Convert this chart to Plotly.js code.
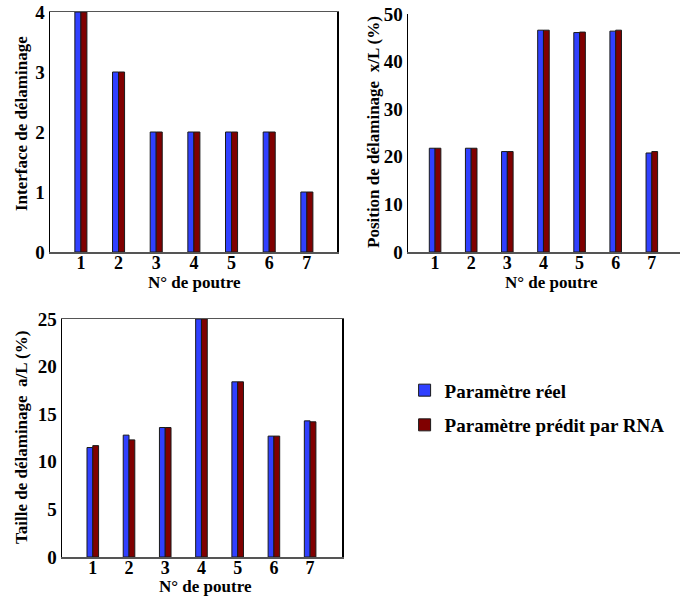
<!DOCTYPE html>
<html>
<head>
<meta charset="utf-8">
<script src="https://cdn.plot.ly/plotly-3.0.1.min.js"></script>
<style>html,body{margin:0;padding:0;background:#fff;}#chart{width:680px;height:596px;}</style>
</head>
<body>
<div id="chart"></div>
<script>
const poutres = [1, 2, 3, 4, 5, 6, 7];
const poutreLabels = ['1', '2', '3', '4', '5', '6', '7'];
const interfaceReel = [4, 3, 2, 2, 2, 2, 1];
const interfacePredit = [4, 3, 2, 2, 2, 2, 1];
const positionReel = [21.8, 21.8, 21.1, 46.6, 46.1, 46.4, 20.8];
const positionPredit = [21.8, 21.8, 21.1, 46.6, 46.2, 46.6, 21.1];
const tailleReel = [11.5, 12.8, 13.6, 25, 18.4, 12.7, 14.3];
const taillePredit = [11.7, 12.3, 13.6, 25, 18.4, 12.7, 14.2];
const interfaceTicks = [0, 1, 2, 3, 4];
const positionTicks = [0, 10, 20, 30, 40, 50];
const tailleTicks = [0, 5, 10, 15, 20, 25];
const legendNames = ['Paramètre réel', 'Paramètre prédit par RNA'];
const xTitle = 'N° de poutre';
const yTitles = ['Interface de délaminage', 'Position de délaminage  x/L (%)', 'Taille de délaminage  a/L (%)'];

const FONT = '"Liberation Serif", "Times New Roman", serif';
const blue = '#3040ff';
const red = '#800000';

function bar(y, name, color, xa, ya, show) {
  return {
    type: 'bar', x: poutres, y: y, name: '<b>' + name + '</b>', xaxis: xa, yaxis: ya,
    marker: {color: color, line: {color: '#1a1a1a', width: 1}},
    showlegend: show, legendgroup: name, hoverinfo: 'skip'
  };
}

const data = [
  bar(interfaceReel, legendNames[0], blue, 'x', 'y', true),
  bar(interfacePredit, legendNames[1], red, 'x', 'y', true),
  bar(positionReel, legendNames[0], blue, 'x2', 'y2', false),
  bar(positionPredit, legendNames[1], red, 'x2', 'y2', false),
  bar(tailleReel, legendNames[0], blue, 'x3', 'y3', false),
  bar(taillePredit, legendNames[1], red, 'x3', 'y3', false)
];

const W = 680, H = 596;
function dx(a, b) { return [a / W, b / W]; }
function dy(top, bottom) { return [1 - bottom / H, 1 - top / H]; }
function px(x) { return x / W; }
function py(y) { return 1 - y / H; }
function bold(arr) { return arr.map(v => '<b>' + v + '</b>'); }

const tickfont = {family: FONT, size: 19, color: '#000'};
const xtickfont = {family: FONT, size: 18, color: '#000'};
const titlefont = {family: FONT, size: 17, color: '#000'};

function xax(domain, anchor, range, mirror) {
  return {
    domain: domain, anchor: anchor, range: range,
    tickmode: 'array', tickvals: poutres, ticktext: bold(poutreLabels),
    ticks: '', showgrid: false, zeroline: false, showline: true,
    linecolor: '#555', linewidth: 1.5, mirror: mirror,
    tickfont: xtickfont, fixedrange: true, ticklabelstandoff: -6
  };
}
function yax(domain, anchor, range, ticks, mirror) {
  return {
    domain: domain, anchor: anchor, range: range,
    tickmode: 'array', tickvals: ticks, ticktext: bold(ticks),
    ticks: '', showgrid: false, zeroline: false, showline: true,
    linecolor: '#000', linewidth: 1.5, mirror: mirror,
    tickfont: tickfont, fixedrange: true
  };
}

function titleAnn(text, x, y, angle) {
  return {
    text: '<b>' + text + '</b>', xref: 'paper', yref: 'paper',
    x: px(x), y: py(y), xanchor: 'center', yanchor: 'middle',
    showarrow: false, textangle: angle, font: titlefont
  };
}

const layout = {
  width: W, height: H,
  margin: {l: 0, r: 0, t: 0, b: 0},
  paper_bgcolor: '#fff', plot_bgcolor: '#fff',
  barmode: 'group', bargap: 0.68, bargroupgap: 0,
  font: {family: FONT, color: '#000'},
  xaxis: xax(dx(50, 337), 'y', [0.18, 7.8], true),
  yaxis: yax(dy(12, 252), 'x', [0, 4], interfaceTicks, true),
  xaxis2: xax(dx(408, 690), 'y2', [0.25, 7.78], false),
  yaxis2: yax(dy(14, 252), 'x2', [0, 50], positionTicks, false),
  xaxis3: xax(dx(62, 342), 'y3', [0.15, 7.88], true),
  yaxis3: yax(dy(319, 557), 'x3', [0, 25], tailleTicks, true),
  annotations: [
    titleAnn(xTitle, 194, 282, 0),
    titleAnn(xTitle, 551, 282, 0),
    titleAnn(xTitle, 206, 586, 0),
    titleAnn(yTitles[0], 21, 124, -90),
    titleAnn(yTitles[1], 373, 132, -90),
    titleAnn(yTitles[2], 21, 438, -90)
  ],
  showlegend: true,
  legend: {
    x: 0.595, y: 0.377, xanchor: 'left', yanchor: 'top',
    font: {family: FONT, size: 19, color: '#000'},
    tracegroupgap: 7, bgcolor: 'rgba(0,0,0,0)'
  }
};

Plotly.newPlot('chart', data, layout, {displayModeBar: false, staticPlot: true});
</script>
</body>
</html>
